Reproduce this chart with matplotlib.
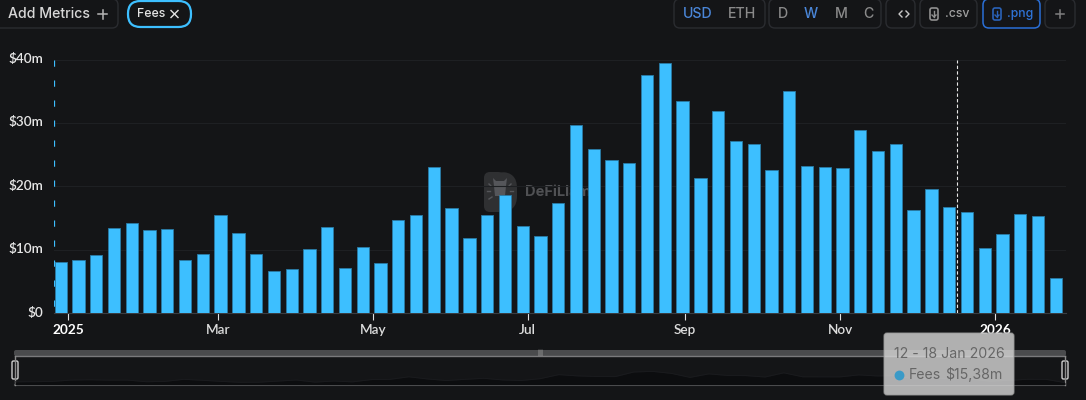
import numpy as np
import pandas as pd
import matplotlib
matplotlib.use("Agg")
import matplotlib.pyplot as plt
import matplotlib.dates as mdates
from matplotlib.patches import FancyBboxPatch, Polygon
from matplotlib.transforms import ScaledTranslation

# Weekly fees in $m
fees = [8.1, 8.4, 9.2, 13.4, 14.2, 13.1, 13.2, 8.3, 9.3, 15.5, 12.6, 9.3, 6.6, 6.9, 10.1,
        13.5, 7.1, 10.4, 7.9, 14.7, 15.5, 23.1, 16.6, 11.9, 15.5, 18.6, 13.7, 12.1, 17.4,
        29.6, 25.8, 24.1, 23.6, 37.5, 39.4, 33.4, 21.3, 31.9, 27.2, 26.6, 22.5, 35.0, 23.2,
        23.0, 22.9, 28.8, 25.6, 26.7, 16.2, 19.6, 16.8, 16.0, 10.3, 12.5, 15.6, 15.38, 5.5]
weeks = pd.date_range("2024-12-29", periods=len(fees), freq="7D")

y_ticks = [0, 10, 20, 30, 40]
y_labels = ["$0", "$10m", "$20m", "$30m", "$40m"]
x_ticks = ["2025-01-01", "2025-03-01", "2025-05-01", "2025-07-01", "2025-09-01", "2025-11-01", "2026-01-01"]
x_labels = ["2025", "Mar", "May", "Jul", "Sep", "Nov", "2026"]
bold_labels = ["2025", "2026"]
cursor_date = "2025-12-17"

BG = "#141517"
BLUE = "#3dbfff"
W, H = 1086, 400
plt.rcParams["font.family"] = ["Inter", "DejaVu Sans"]

fig = plt.figure(figsize=(W / 100, H / 100), dpi=100, facecolor=BG)

# overlay in pixel coordinates for the toolbar and slider
ui = fig.add_axes([0, 0, 1, 1], zorder=1)
ui.set_xlim(0, W)
ui.set_ylim(H, 0)
ui.axis("off")

# main chart
left, right, top, bottom = 54, 1066, 59.5, 313
ax = fig.add_axes([left / W, 1 - bottom / H, (right - left) / W, (bottom - top) / H], zorder=2)
ax.patch.set_alpha(0)
px_per_day = 17.77 / 7
start = mdates.date2num(pd.Timestamp("2025-01-01"))
ax.set_xlim(start - (68.3 - left) / px_per_day, start + (right - 68.3) / px_per_day)
ax.set_ylim(0, 40)

ax.bar(weeks, fees, width=4.85, color=BLUE, edgecolor="#2a7ba6", linewidth=0.6, zorder=3)
ax.set_yticks(y_ticks, y_labels)
ax.set_xticks(pd.to_datetime(x_ticks), x_labels)
ax.grid(axis="y", color="#1e2023", linewidth=0.8, zorder=0)
ax.tick_params(axis="y", length=0, pad=8, labelsize=9.8, labelcolor="#e6e6e6")
ax.tick_params(axis="x", length=5, width=0.8, color="#e0e0e0", pad=3, labelsize=9.8, labelcolor="#dddddd")
for lab in ax.get_yticklabels() + ax.get_xticklabels():
    lab.set_family(["Lato", "DejaVu Sans"])
    lab.set_fontweight("semibold")
# y labels sit slightly above their gridlines
nudge = ScaledTranslation(0, 1.5 / 100, fig.dpi_scale_trans)
for tick in ax.yaxis.get_major_ticks():
    tick.label1.set_transform(tick.label1.get_transform() + nudge)
for lab in ax.get_xticklabels():
    if lab.get_text() in bold_labels:
        lab.set_fontweight("bold")
        lab.set_color("white")
for name in ["top", "left", "right"]:
    ax.spines[name].set_visible(False)
ax.spines["bottom"].set_color("#3a3d42")

# dashed pointers
x_edge = ax.get_xlim()[0] + 0.15
ax.plot([x_edge, x_edge], [40, 0], color=BLUE, linewidth=0.9, linestyle=(0, (5, 11)), zorder=4)
ax.axvline(pd.Timestamp(cursor_date), color="#e8e8e8", linewidth=0.8, dashes=(3, 2), zorder=4)

# watermark behind the bars
LOGO = "#2f3032"
ui.add_patch(FancyBboxPatch((484, 172), 20, 40, boxstyle="round,pad=0,rounding_size=6", fc=LOGO, ec="none"))
ui.add_patch(FancyBboxPatch((490, 172), 27, 40, boxstyle="round,pad=0,rounding_size=16", fc=LOGO, ec="none"))
ui.add_patch(Polygon([(493, 178), (496, 181), (504, 181), (507, 178), (506, 186), (505, 196), (495, 196), (494, 186)],
                     fc="#55565a", ec="none"))
for x0, y0, x1, y1 in [(489, 184, 491, 186), (487, 191, 490, 191), (489, 199, 492, 197), (511, 184, 509, 186), (513, 191, 510, 191)]:
    ui.plot([x0, x1], [y0, y1], color="#55565a", lw=1)
ui.text(525, 192, "DeFiLlama", color="#505154", fontsize=10.5, fontweight="bold", va="center")


def button(x0, y0, x1, y1, edge="#2a2c30", lw=1.0, radius=6):
    ui.add_patch(FancyBboxPatch((x0, y0), x1 - x0, y1 - y0, boxstyle=f"round,pad=0,rounding_size={radius}",
                                fc="none", ec=edge, lw=lw))


def label(x, text, color="#9a9a9a", size=10, ha="center", weight="medium"):
    ui.text(x, 14, text, color=color, fontsize=size, ha=ha, va="center", fontweight=weight)


def file_icon(x, color):
    ui.add_patch(FancyBboxPatch((x, 8), 8, 12, boxstyle="round,pad=0,rounding_size=2", fc="none", ec=color, lw=1.2))
    ui.plot([x + 4, x + 4], [11, 17], color=color, lw=1)
    ui.plot([x + 2, x + 4, x + 6], [15, 17, 15], color=color, lw=1)


# toolbar, left side
button(-6, -1, 118, 28)
label(8, "Add Metrics", "#d8d8d8", 10.2, "left")
ui.plot([98, 107], [14, 14], color="#b5b5b5", lw=1.1)
ui.plot([102.5, 102.5], [9.5, 18.5], color="#b5b5b5", lw=1.1)
button(128, 1, 191, 27, BLUE, 1.6, 12.5)
label(137, "Fees", "#e4e4e4", 8.8, "left")
ui.plot([171, 178], [10.5, 17.5], color="#e4e4e4", lw=1)
ui.plot([171, 178], [17.5, 10.5], color="#e4e4e4", lw=1)

# toolbar, right side
button(674, -1, 765, 28)
label(698, "USD", "#4a86d8", 10.2)
label(742, "ETH", "#8a8a8a", 10.2)
button(769, -1, 881, 28)
for x, s, c in [(783, "D", "#8a8a8a"), (811, "W", "#4a86d8"), (841, "M", "#8a8a8a"), (868, "C", "#8a8a8a")]:
    label(x, s, c, 10.2)
button(886, -1, 915, 28)
ui.plot([902, 899, 902], [11, 14, 17], color="#c8c8c8", lw=1)
ui.plot([906, 909, 906], [11, 14, 17], color="#c8c8c8", lw=1)
button(920, -1, 977, 28)
file_icon(930, "#909090")
label(945, ".csv", "#a0a0a0", 8.8, "left")
button(983, -1, 1040, 28, "#2a6fd6", 1.1)
file_icon(993, "#2a62b8")
label(1007, ".png", "#2f74d8", 8.8, "left")
button(1045, -1, 1075, 28)
ui.plot([1056, 1064], [14, 14], color="#808080", lw=1.1)
ui.plot([1060, 1060], [10, 18], color="#808080", lw=1.1)

# range slider
ui.add_patch(FancyBboxPatch((14, 350), 1052, 6, boxstyle="round,pad=0,rounding_size=2", fc="#4a4b4d", ec="none"))
ui.plot([15, 1065], [356, 356], color="#7a7a7c", lw=1)
ui.plot([15, 1065], [385, 385], color="#4a4b4d", lw=1.5)
ui.plot([15, 15], [356, 385], color="#8a8a8a", lw=1)
ui.plot([1065, 1065], [356, 385], color="#8a8a8a", lw=1)
for x in [15, 1065]:
    ui.add_patch(FancyBboxPatch((x - 3, 361), 6, 18, boxstyle="round,pad=0,rounding_size=1.5",
                                fc=BG, ec="#cccccc", lw=1))
ui.text(540, 352.5, "|||", color="#cfcfcf", fontsize=4, ha="center", va="center")

# slider preview from the same series
mini = fig.add_axes([15 / W, 1 - 384.5 / H, 1050 / W, 20 / H], zorder=1.5)
mini.axis("off")
mini.fill_between(weeks, fees, 0, color="#0c0d0f", linewidth=0)
mini.plot(weeks, fees, color="#1a1b1e", linewidth=0.7)
mini.set_xlim(weeks[0], weeks[-1])
mini.set_ylim(0, 60)

# tooltip on top of everything
tip = fig.add_axes([0, 0, 1, 1], zorder=3)
tip.set_xlim(0, W)
tip.set_ylim(H, 0)
tip.axis("off")
tip.add_patch(FancyBboxPatch((884, 333), 130, 62, boxstyle="round,pad=0,rounding_size=3",
                             fc="#d8d8d8", ec="#9a9a9a", lw=0.8, alpha=0.8))
tip.text(949, 354, "12 - 18 Jan 2026", color="#666666", fontsize=10.2, ha="center", va="center")
tip.scatter([899], [375], s=50, color="#3a9ac7", linewidths=0)
tip.text(909, 375, "Fees", color="#666666", fontsize=10.2, va="center")
tip.text(1003, 375, f"${fees[-2]:.2f}m".replace(".", ","), color="#666666", fontsize=10.2, ha="right", va="center")

fig.savefig("out.png", dpi=100, facecolor=BG)
